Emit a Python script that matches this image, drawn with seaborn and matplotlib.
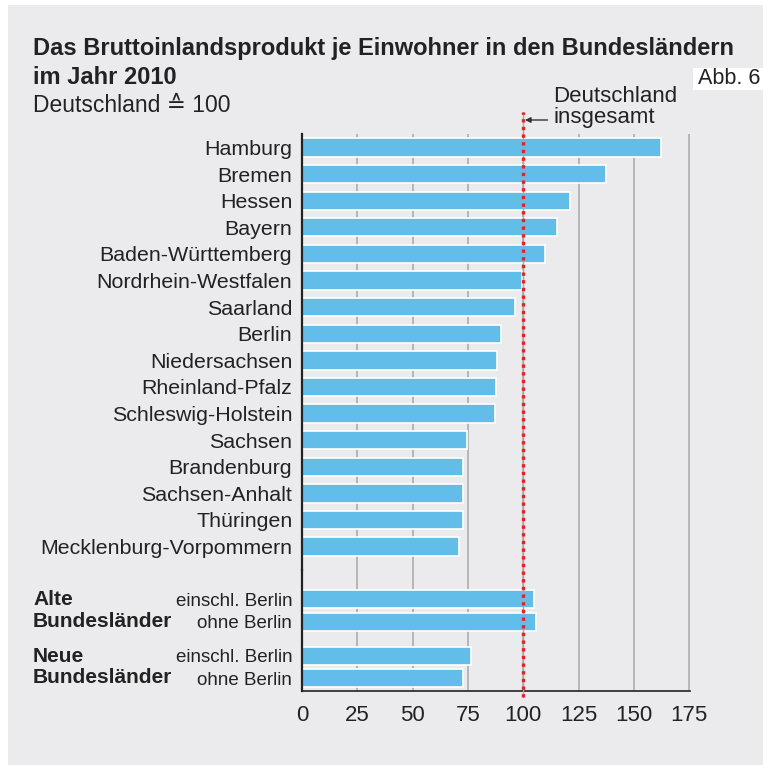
"""
BIP je Einwohner in den Bundeslaendern 2010, Deutschland = 100
"""

import matplotlib
matplotlib.use("Agg")
import matplotlib.pyplot as plt
import matplotlib.transforms as mtransforms
from matplotlib.lines import Line2D
from matplotlib.patches import Rectangle
import pandas as pd
import seaborn as sns


states = ["Hamburg", "Bremen", "Hessen", "Bayern", "Baden-Württemberg",
          "Nordrhein-Westfalen", "Saarland", "Berlin", "Niedersachsen",
          "Rheinland-Pfalz", "Schleswig-Holstein", "Sachsen", "Brandenburg",
          "Sachsen-Anhalt", "Thüringen", "Mecklenburg-Vorpommern"]
state_values = [162.2, 137.5, 121.2, 115.5, 109.9, 99.3, 96.3, 90.0, 88.0,
                87.8, 87.4, 74.8, 72.8, 72.8, 72.8, 71.0]

groups = ["Alte", "Neue"]
group_labels = ["Alte\nBundesländer", "Neue\nBundesländer"]
variants = ["einschl. Berlin", "ohne Berlin"]
alte_values = [104.8, 105.7]
neue_values = [76.6, 73.0]

xticks = [0, 25, 50, 75, 100, 125, 150, 175]
germany = 100

BAR = "#62bee8"
BG = "#ebebed"
GRID = "#a8a8a8"
DARK = "#222222"
RED = "#e32129"

sns.set_style("white")
plt.rcParams["font.family"] = ["Liberation Sans", "DejaVu Sans"]

W, H = 770, 765
fig = plt.figure(figsize=(W / 100, H / 100), dpi=100, facecolor="white")
fig.add_artist(Rectangle((8 / W, 0), 755 / W, 1 - 5 / H, transform=fig.transFigure,
                         facecolor=BG, edgecolor="none", zorder=-10))

left = 302 / W
width = 388 / W
ax1 = fig.add_axes([left, 1 - 570 / H, width, 436 / H])
ax2 = fig.add_axes([left, 1 - 691 / H, width, 121 / H])

# top block: the sixteen states
sns.barplot(x=state_values, y=states, color=BAR, width=0.69, edgecolor="white",
            linewidth=1.2, saturation=1, ax=ax1)
ax1.set_ylim(15.88, -0.507)

# bottom block: old / new states with and without Berlin
df = pd.DataFrame({
    "group": [g for g in groups for _ in variants],
    "variant": variants * 2,
    "value": alte_values + neue_values,
})
sns.barplot(data=df, x="value", y="group", hue="variant", palette=[BAR, BAR],
            dodge=True, width=0.8, gap=0.2, edgecolor="white", linewidth=1.2,
            saturation=1, legend=False, ax=ax2)
ax2.set_ylim(1.425, -0.717)

for ax in (ax1, ax2):
    ax.set_facecolor("none")
    ax.set_xlim(0, 175.4)
    ax.set_xticks(xticks)
    ax.set_axisbelow(True)
    ax.xaxis.grid(True, color=GRID, linewidth=1.1)
    ax.yaxis.grid(False)
    ax.set_xlabel("")
    ax.set_ylabel("")
    for s in ("top", "right", "bottom"):
        ax.spines[s].set_visible(False)
    ax.spines["left"].set_color(DARK)
    ax.spines["left"].set_linewidth(1.6)
    ax.tick_params(axis="y", length=0, pad=7, labelsize=15.4, labelcolor=DARK)
    ax.tick_params(axis="x", length=0)

ax1.tick_params(axis="x", labelbottom=False)
ax2.spines["bottom"].set_visible(True)
ax2.spines["bottom"].set_color(DARK)
ax2.spines["bottom"].set_linewidth(1.2)
ax2.tick_params(axis="x", pad=10, labelsize=16, labelcolor=DARK)

# per-bar labels from the bar positions seaborn laid out
bars = sorted(ax2.patches, key=lambda p: p.get_y())
centres = [p.get_y() + p.get_height() / 2 for p in bars]
ax2.set_yticks(centres)
ax2.set_yticklabels(variants * 2, fontsize=13.5)

trans2 = mtransforms.blended_transform_factory(fig.transFigure, ax2.transData)
for i, lab in enumerate(group_labels):
    ax2.text(33 / W, i, lab, transform=trans2, ha="left", va="center",
             fontsize=15, fontweight="bold", color=DARK, linespacing=1.15)

# reference line for Germany as a whole
tline = mtransforms.blended_transform_factory(ax1.transData, fig.transFigure)
y0, y1 = 1 - 697 / H, 1 - 112 / H
fig.add_artist(Line2D([germany, germany], [y0, y1], transform=tline,
                      color=GRID, linewidth=1.0, zorder=5))
fig.add_artist(Line2D([germany, germany], [y0, y1], transform=tline,
                      color=RED, linewidth=2.4, dashes=(1, 1.3),
                      dash_capstyle="butt", zorder=6))

ax1.annotate("", xy=(germany + 0.8, 1 - 120 / H), xycoords=tline,
             xytext=(germany + 11, 1 - 120 / H), textcoords=tline,
             arrowprops=dict(arrowstyle="-|>", color="#333333", lw=1.0,
                             mutation_scale=8, shrinkA=0, shrinkB=0),
             annotation_clip=False)
ax1.text(germany + 13.5, 1 - 86 / H, "Deutschland\ninsgesamt", transform=tline,
         ha="left", va="top", fontsize=16, color=DARK, linespacing=1.02)

# titles
fig.text(33 / W, 1 - 37 / H, "Das Bruttoinlandsprodukt je Einwohner in den Bundesländern",
         ha="left", va="top", fontsize=17, fontweight="bold", color=DARK)
fig.text(33 / W, 1 - 66 / H, "im Jahr 2010",
         ha="left", va="top", fontsize=17, fontweight="bold", color=DARK)
fig.text(33 / W, 1 - 94 / H, "Deutschland ≙ 100", ha="left", va="top",
         fontsize=16.5, color=DARK)

fig.add_artist(Rectangle((693 / W, 1 - 90 / H), 77 / W, 22 / H,
                         transform=fig.transFigure, facecolor="white",
                         edgecolor="none"))
fig.text(698 / W, 1 - 79 / H, "Abb. 6", ha="left", va="center", fontsize=15.5,
         color=DARK)

fig.savefig("out.png", dpi=100, facecolor="white")
